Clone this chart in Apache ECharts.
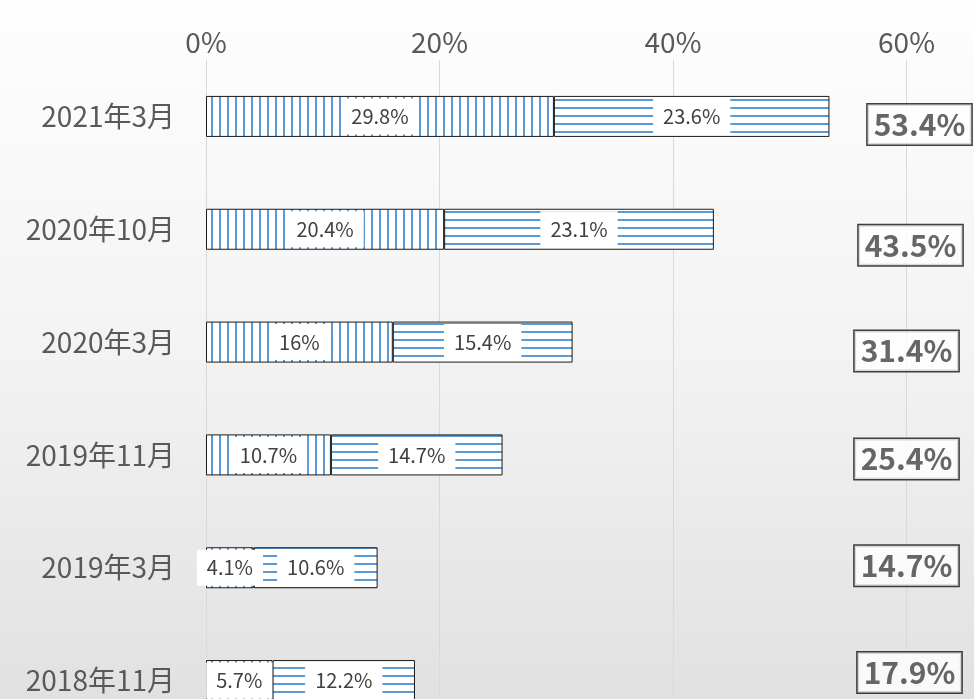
<!DOCTYPE html>
<html>
<head>
<meta charset="utf-8">
<script src="https://cdn.jsdelivr.net/npm/echarts@6/dist/echarts.min.js"></script>
<style>
html,body{margin:0;padding:0;}
#chart{width:974px;height:699px;background:linear-gradient(to bottom,#fefefe 0%,#f3f3f3 50%,#e1e1e1 100%);}
</style>
</head>
<body>
<div id="chart"></div>
<script>
// ---- data ----
var categories = ['2021年3月', '2020年10月', '2020年3月', '2019年11月', '2019年3月', '2018年11月'];
var seriesA = [29.8, 20.4, 16, 10.7, 4.1, 5.7];
var seriesB = [23.6, 23.1, 15.4, 14.7, 10.6, 12.2];
var totals = [53.4, 43.5, 31.4, 25.4, 14.7, 17.9];
var xTicks = [0, 20, 40, 60];

// ---- styles ----
var totalNudge = [[13, 8], [4, 16], [0, 9], [0, 4], [0, -2], [3, -8]];
var blue = '#5B9BD5';
function makePattern(vertical) {
  var c = document.createElement('canvas');
  c.width = 8; c.height = 8;
  var ctx = c.getContext('2d');
  ctx.fillStyle = '#ffffff';
  ctx.fillRect(0, 0, 8, 8);
  ctx.fillStyle = blue;
  if (vertical) ctx.fillRect(3, 0, 2, 8); else ctx.fillRect(0, 3, 8, 2);
  return c;
}
var vPat = { image: makePattern(true), repeat: 'repeat' };
var hPat = { image: makePattern(false), repeat: 'repeat' };
var FONT = '"Noto Sans CJK JP", "Noto Sans", sans-serif';

var segLabel = {
  show: true, position: 'inside', formatter: '{c}%',
  fontFamily: FONT, fontSize: 20, color: '#404040',
  backgroundColor: '#ffffff', padding: [8, 10]
};

var chart = echarts.init(document.getElementById('chart'), null, { renderer: 'canvas' });
chart.setOption({
  backgroundColor: 'transparent',
  animation: false,
  grid: { left: 206, right: 67.5, top: 60, height: 677, containLabel: false, outerBoundsMode: 'none' },
  xAxis: {
    type: 'value', position: 'top', min: 0, max: 60, interval: 20,
    axisLine: { show: false }, axisTick: { show: false },
    axisLabel: { formatter: '{value}%', fontFamily: FONT, fontSize: 28, color: '#595959', margin: 4 },
    splitLine: { show: true, lineStyle: { color: '#d9d9d9', width: 1 } }
  },
  yAxis: {
    type: 'category', data: categories, inverse: true,
    axisLine: { show: false }, axisTick: { show: false },
    axisLabel: { fontFamily: FONT, fontSize: 28, color: '#595959', margin: 31 }
  },
  series: [
    {
      type: 'bar', stack: 'total', data: seriesA, barWidth: 41,
      itemStyle: { color: vPat, borderColor: '#1a1a1a', borderWidth: 1 },
      label: segLabel
    },
    {
      type: 'bar', stack: 'total', data: seriesB, barWidth: 41,
      itemStyle: { color: hPat, borderColor: '#1a1a1a', borderWidth: 1 },
      label: segLabel
    },
    {
      type: 'scatter', symbolSize: 0, silent: true,
      data: totals.map(function (t, i) {
        return {
          value: [xTicks[xTicks.length - 1], categories[i]],
          label: { offset: totalNudge[i] }
        };
      }),
      label: {
        show: true, position: 'inside',
        formatter: function (p) { return totals[p.dataIndex] + '%'; },
        fontFamily: FONT, fontSize: 30, fontWeight: 'bold', color: '#404040',
        backgroundColor: '#ffffff', borderColor: '#111111', borderWidth: 1.5,
        padding: [6, 6, 4, 6]
      }
    }
  ]
});
</script>
</body>
</html>
